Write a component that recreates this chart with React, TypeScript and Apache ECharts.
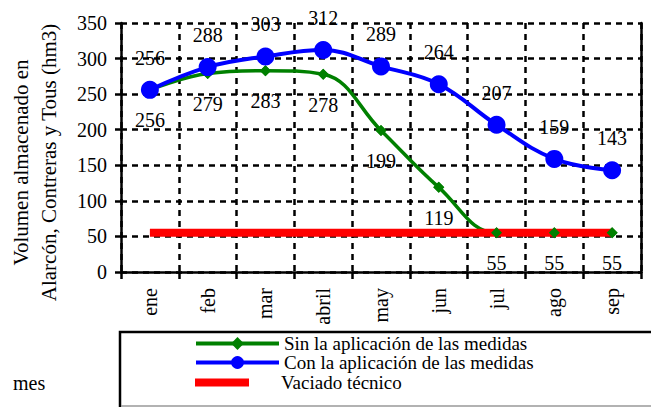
import React, { useEffect, useRef } from "react";
import * as echarts from "echarts";

const months = ["ene", "feb", "mar", "abril", "may", "jun", "jul", "ago", "sep"];
const sinMedidas = [256, 279, 283, 278, 199, 119, 55, 55, 55];
const conMedidas = [256, 288, 303, 312, 289, 264, 207, 159, 143];
const vaciado = [55, 55, 55, 55, 55, 55, 55, 55, 55];
const yTicks = { min: 0, max: 350, interval: 50 };

const FONT = "Liberation Serif";
const GREEN = "#008000";
const BLUE = "#0000FF";
const RED = "#FF0000";
const SIN = "Sin la aplicación de las medidas";
const CON = "Con la aplicación de las medidas";
const VAC = "Vaciado técnico";

export default function App() {
  const ref = useRef<HTMLDivElement>(null);
  useEffect(() => {
    if (!ref.current) return;
    const chart = echarts.init(ref.current, undefined, { renderer: "svg" });
    const dash = { type: [6, 5] as any, color: "#000", width: 2.5 };
    const txt = { fontSize: 20, fontFamily: FONT, color: "#000" };
    const legTxt = { fontSize: 19, fontFamily: FONT, color: "#000", lineHeight: 17 };
    const lineLegend = (name: string, top: number) => ({
      data: [name],
      orient: "vertical",
      left: 194,
      top,
      padding: 0,
      itemWidth: 83,
      itemHeight: 16,
      selectedMode: false,
      lineStyle: { width: 4 },
      textStyle: legTxt,
    });
    chart.setOption({
      animation: false,
      backgroundColor: "#fff",
      textStyle: { fontFamily: FONT, color: "#000" },
      grid: { left: 121, right: 10, top: 23, bottom: 135, outerBoundsMode: "none", containLabel: false },
      xAxis: {
        type: "category",
        data: months,
        boundaryGap: true,
        axisLine: { lineStyle: { color: "#000", width: 2.5 } },
        axisTick: { show: true, length: 7, lineStyle: { color: "#000", width: 2.5 } },
        axisLabel: { ...txt, rotate: 90, margin: 16 },
        splitLine: { show: true, lineStyle: dash },
      },
      yAxis: [
        {
          type: "value",
          min: yTicks.min,
          max: yTicks.max,
          interval: yTicks.interval,
          name: "Volumen almacenado en\nAlarcón, Contreras y Tous (hm3)",
          nameLocation: "middle",
          nameGap: 58,
          nameTextStyle: { ...txt, fontSize: 21, lineHeight: 28, padding: [0, 30, 0, 0] },
          axisLine: { show: true, lineStyle: { color: "#000", width: 2.5 } },
          axisTick: { show: true, length: 6, lineStyle: { color: "#000", width: 2.5 } },
          axisLabel: { ...txt, margin: 14 },
          splitLine: { show: true, lineStyle: dash },
        },
        {
          type: "value",
          min: yTicks.min,
          max: yTicks.max,
          interval: yTicks.interval,
          position: "right",
          axisLine: { show: true, lineStyle: { color: "#000", width: 2.5 } },
          axisTick: { show: false },
          axisLabel: { show: false },
          splitLine: { show: false },
        },
      ],
      legend: [
        lineLegend(SIN, 334),
        lineLegend(CON, 353),
        {
          data: [{ name: VAC, icon: "rect" }],
          orient: "vertical",
          left: 195,
          top: 373,
          padding: 0,
          itemWidth: 54,
          itemHeight: 8,
          selectedMode: false,
          itemStyle: { color: RED, borderWidth: 0 },
          lineStyle: { width: 8, color: RED, type: "solid" },
          textStyle: { ...legTxt, padding: [0, 0, 0, 27] },
        },
      ],
      graphic: [
        {
          type: "rect",
          shape: { x: 120, y: 332, width: 560, height: 90 },
          style: { fill: "none", stroke: "#000", lineWidth: 2.5 },
          z: 0,
        },
        {
          type: "line",
          shape: { x1: 121, y1: 406, x2: 651, y2: 406 },
          style: { stroke: "#999", lineWidth: 1.5 },
        },
        {
          type: "text",
          left: 13,
          top: 373,
          style: { text: "mes", fontSize: 20, fontFamily: FONT, fill: "#000" },
        },
      ],
      series: [
        {
          name: SIN,
          type: "line",
          data: sinMedidas,
          smooth: 0.4,
          symbol: "diamond",
          symbolSize: 11,
          lineStyle: { color: GREEN, width: 3.5 },
          itemStyle: { color: GREEN },
          z: 2,
        },
        {
          name: VAC,
          type: "line",
          data: vaciado,
          symbol: "none",
          lineStyle: { color: RED, width: 8, type: "solid", cap: "butt" },
          itemStyle: { color: RED },
          z: 3,
        },
        {
          name: "sinMarkers",
          type: "scatter",
          data: sinMedidas,
          symbol: "diamond",
          symbolSize: 11,
          itemStyle: { color: GREEN, opacity: 1 },
          label: { show: true, position: "bottom", distance: 15, ...txt, opacity: 1, textBorderWidth: 0 },
          z: 4,
        },
        {
          name: CON,
          type: "line",
          data: conMedidas,
          smooth: 0.4,
          symbol: "circle",
          symbolSize: 18,
          lineStyle: { color: BLUE, width: 4 },
          itemStyle: { color: BLUE },
          label: { show: true, position: "top", distance: 13, ...txt, textBorderWidth: 0 },
          z: 5,
        },
      ],
    });
    return () => chart.dispose();
  }, []);
  return <div ref={ref} style={{ position: "fixed", left: 0, top: 0, width: 651, height: 407 }} />;
}
